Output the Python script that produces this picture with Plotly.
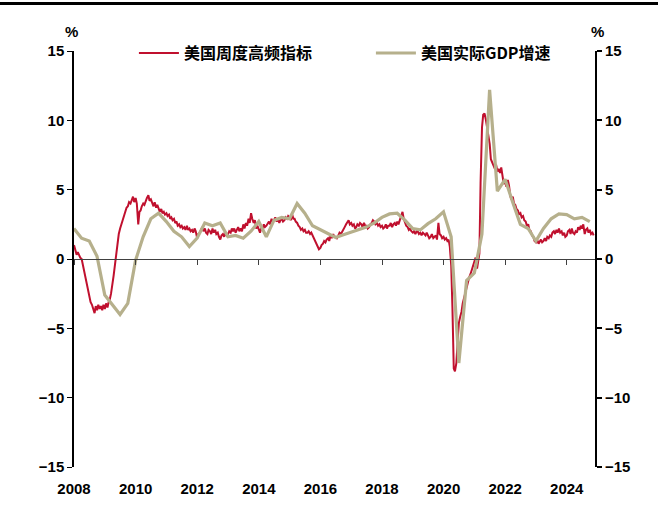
import plotly.graph_objects as go
import pandas as pd

# ---------------- data ----------------
series_names = ["美国周度高频指标", "美国实际GDP增速"]

# US weekly high-frequency indicator (read twice a month from the picture), %
wei_values = [
    # 2008
    1.0, 0.6, 0.3, 0.5, 0.2, 0.1, 0.0, -0.4, -1.0, -1.2, -1.7, -2.2,
    -2.8, -3.1, -3.3, -3.6, -3.9, -3.4, -3.7, -3.3, -3.6, -3.4, -3.7, -3.3,
    # 2009
    -3.6, -3.2, -3.5, -3.1, -2.9, -2.5, -1.9, -1.2, -0.4, 0.4, 1.2, 1.8,
    2.2, 2.5, 2.9, 3.2, 3.4, 3.7, 3.8, 4.1, 4.0, 4.3, 4.5, 4.1,
    # 2010
    4.4, 4.0, 2.5, 3.4, 3.5, 3.8, 4.0, 3.9, 4.2, 4.4, 4.6, 4.2,
    4.3, 4.0, 3.8, 4.1, 3.7, 3.9, 3.6, 3.4, 3.6, 3.3, 3.4, 3.2,
    # 2011
    3.3, 3.1, 3.2, 2.9, 3.0, 2.8, 2.9, 2.6, 2.7, 2.4, 2.5, 2.3,
    2.4, 2.2, 2.3, 2.1, 2.4, 2.1, 2.2, 2.0, 2.1, 1.9, 2.2, 2.0,
    # 2012
    1.5, 1.8, 1.9, 2.1, 2.3, 2.0, 2.2, 1.9, 1.8, 2.1, 2.0, 1.8,
    2.2, 1.9, 2.1, 1.8, 1.9, 1.6, 1.4, 1.7, 1.8, 1.6, 1.9, 1.7,
    # 2013
    1.8, 2.0, 1.9, 2.2, 2.0, 2.2, 1.9, 2.1, 2.3, 2.0, 2.2, 2.0,
    2.5, 2.2, 2.6, 2.4, 2.9, 2.6, 3.3, 2.9, 2.6, 2.8, 2.2, 2.4,
    # 2014
    2.1, 1.9, 2.3, 2.1, 2.5, 2.3, 2.4, 2.6, 2.7, 2.5, 2.9, 2.7,
    2.8, 3.0, 2.7, 2.9, 2.6, 2.8, 2.9, 2.7, 2.8, 3.0, 2.9, 3.1,
    # 2015
    3.0, 2.8, 3.2, 2.9, 2.9, 2.7, 2.6, 2.4, 2.3, 2.1, 2.2, 2.0,
    2.1, 1.9, 1.9, 2.0, 1.8, 1.9, 1.7, 1.5, 1.3, 1.1, 0.9, 0.7,
    # 2016
    0.8, 1.0, 1.1, 1.3, 1.2, 1.4, 1.5, 1.3, 1.7, 1.5, 1.8, 1.6,
    1.6, 1.5, 1.7, 1.9, 1.8, 2.0, 2.1, 2.3, 2.5, 2.7, 2.8, 2.5,
    # 2017
    2.6, 2.4, 2.5, 2.2, 2.3, 2.5, 2.4, 2.6, 2.5, 2.3, 2.6, 2.4,
    2.4, 2.2, 2.3, 2.5, 2.6, 2.8, 2.7, 2.5, 2.6, 2.4, 2.5, 2.3,
    # 2018
    2.4, 2.2, 2.3, 2.5, 2.2, 2.4, 2.4, 2.6, 2.3, 2.5, 2.6, 2.4,
    2.7, 2.5, 2.8, 3.0, 3.4, 2.9, 2.6, 2.4, 2.3, 2.1, 2.2, 2.0,
    # 2019
    1.9, 2.0, 1.8, 2.0, 2.0, 1.8, 1.9, 1.7, 1.9, 1.8, 1.7, 1.9,
    1.7, 1.5, 1.6, 1.8, 1.5, 1.6, 1.7, 1.4, 2.6, 1.8, 1.7, 1.5,
    # 2020
    1.6, 1.4, 1.5, 1.3, 1.4, 0.9, -0.5, -3.5, -7.9, -8.1, -7.5, -6.0,
    -4.6, -4.2, -3.8, -3.2, -2.8, -2.3, -1.9, -1.6, -1.3, -1.1, -0.8, -0.6,
    # 2021
    -0.3, 0.1, -0.7, 0.0, 0.4, 5.5, 9.5, 10.4, 10.5, 10.1, 9.3, 8.8,
    8.3, 7.2, 6.9, 6.7, 6.5, 6.8, 6.3, 6.5, 6.2, 6.6, 5.9, 5.4,
    # 2022
    5.6, 5.2, 5.7, 5.3, 4.6, 4.3, 4.5, 4.0, 3.9, 3.6, 3.5, 3.2,
    3.3, 3.0, 3.1, 2.8, 2.7, 2.4, 2.5, 2.1, 2.0, 1.7, 1.6, 1.3,
    # 2023
    1.2, 1.4, 1.1, 1.3, 1.4, 1.2, 1.3, 1.5, 1.3, 1.6, 1.5, 1.7,
    1.6, 1.9, 2.0, 1.8, 2.1, 1.9, 2.2, 1.9, 2.0, 1.7, 1.9, 1.6,
    # 2024
    1.7, 2.0, 2.1, 1.8, 2.2, 1.9, 1.8, 2.0, 1.9, 2.3, 2.1, 2.4,
    2.2, 2.5, 1.8, 2.1, 2.2, 1.9, 2.1, 1.8, 1.9, 1.7,
]

# US real GDP growth, y/y %, quarterly (2007Q4 .. 2024Q3)
gdp_values = [
    2.2,
    1.5, 1.3, 0.2, -2.6,
    -3.3, -4.0, -3.2, -0.1,
    1.6, 2.9, 3.3, 2.7,
    2.0, 1.6, 0.9, 1.5,
    2.6, 2.4, 2.6, 1.6,
    1.7, 1.5, 2.0, 2.7,
    1.6, 2.8, 3.0, 2.9,
    4.0, 3.3, 2.4, 2.1,
    1.8, 1.55, 1.75, 1.95,
    2.1, 2.3, 2.6, 3.0,
    3.25, 3.3, 2.8, 2.2,
    2.1, 2.55, 2.9, 3.4,
    1.6, -7.5, -1.55, -1.0,
    1.8, 12.2, 4.9, 5.75,
    4.1, 2.5, 2.2, 1.3,
    2.2, 2.9, 3.25, 3.2,
    2.9, 3.0, 2.7,
]

x_tick_years = [2008, 2010, 2012, 2014, 2016, 2018, 2020, 2022, 2024]
y_ticks = [-15, -10, -5, 0, 5, 10, 15]
x_range = ["2008-01-01", "2024-12-01"]

wei_dates = pd.date_range("2008-01-01", periods=len(wei_values), freq="SMS")
try:
    gdp_dates = pd.date_range("2007-12-31", periods=len(gdp_values), freq="QE")
except Exception:
    gdp_dates = pd.date_range("2007-12-31", periods=len(gdp_values), freq="Q")

# ---------------- style ----------------
RED = "#C0102E"
KHAKI = "#B6B08C"
NUM_FONT = dict(family="Liberation Sans, Arial, sans-serif",
                size=15, color="black", weight="bold")
CJK_FONT = dict(family="Noto Sans CJK SC, Liberation Sans, sans-serif",
                size=16, color="black", weight="bold")

fig = go.Figure()
fig.add_trace(go.Scatter(x=wei_dates, y=wei_values, mode="lines", name=series_names[0],
                         line=dict(color=RED, width=2), xaxis="x", yaxis="y"))
fig.add_trace(go.Scatter(x=gdp_dates, y=gdp_values, mode="lines", name=series_names[1],
                         line=dict(color=KHAKI, width=3.2), xaxis="x2", yaxis="y2"))

tickvals = [f"{y}-01-01" for y in x_tick_years]
ticktext = [str(y) for y in x_tick_years]

fig.update_layout(
    width=658, height=515,
    margin=dict(l=74, r=63, t=51, b=48),
    paper_bgcolor="white", plot_bgcolor="white",
    showlegend=True,
    legend=dict(orientation="h", x=0.115, y=0.995, xanchor="left", yanchor="middle",
                font=CJK_FONT, bgcolor="rgba(0,0,0,0)", entrywidth=182,
                entrywidthmode="pixels", itemwidth=40, tracegroupgap=0),
    xaxis=dict(range=x_range, tickvals=tickvals, ticktext=ticktext, showline=False,
               showgrid=False, zeroline=False, ticks="outside", ticklen=8,
               tickcolor="rgba(0,0,0,0)", tickfont=NUM_FONT),
    xaxis2=dict(range=x_range, overlaying="x", anchor="free", position=0.5,
                tickvals=tickvals, showticklabels=False, showline=True,
                linecolor="#404040", linewidth=1.2, ticks="outside", ticklen=5,
                tickcolor="#404040", tickwidth=1.2, showgrid=False, zeroline=False),
    yaxis=dict(range=[-15, 15], tickvals=y_ticks, showline=True, linecolor="black",
               linewidth=1.5, ticks="outside", ticklen=5, tickcolor="black",
               showgrid=False, zeroline=False, tickfont=NUM_FONT),
    yaxis2=dict(range=[-15, 15], tickvals=y_ticks, overlaying="y", side="right",
                anchor="x", showline=True, linecolor="black", linewidth=2,
                ticks="outside", ticklen=5, tickcolor="black", tickwidth=2,
                showgrid=False, zeroline=False, tickfont=NUM_FONT),
)

fig.add_annotation(text="%", xref="paper", yref="paper", x=-0.004, y=1.046,
                   showarrow=False, font=NUM_FONT, xanchor="center", yanchor="middle")
fig.add_annotation(text="%", xref="paper", yref="paper", x=1.004, y=1.046,
                   showarrow=False, font=NUM_FONT, xanchor="center", yanchor="middle")
fig.add_shape(type="line", xref="paper", yref="paper", x0=-0.15, x1=1.15,
              y0=1.114, y1=1.114, line=dict(color="black", width=3))

fig.write_html(
    "out.html",
    config={"displayModeBar": False},
    post_script="document.body.style.margin='0';document.body.style.overflow='hidden';",
)
